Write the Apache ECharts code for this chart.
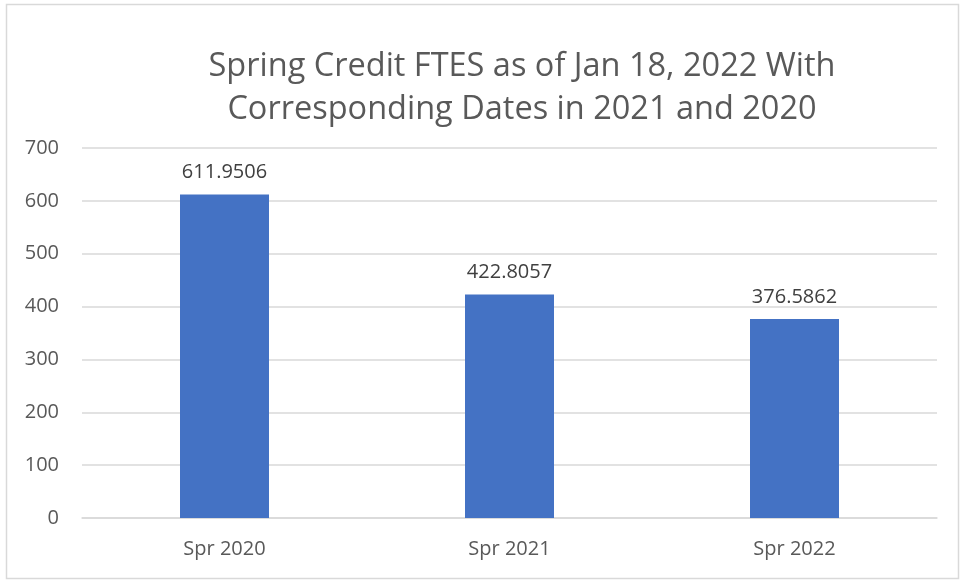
<!DOCTYPE html>
<html>
<head>
<meta charset="utf-8">
<script src="https://cdn.jsdelivr.net/npm/echarts@6/dist/echarts.min.js"></script>
<style>
html, body { margin: 0; padding: 0; background: #fff; }
#main { width: 964px; height: 582px; }
</style>
</head>
<body>
<div id="main"></div>
<script>
var categories = ['Spr 2020', 'Spr 2021', 'Spr 2022'];
var ftesValues = [611.9506, 422.8057, 376.5862];
var yTicks = [0, 100, 200, 300, 400, 500, 600, 700];

var fontName = '"Open Sans", "Noto Sans", sans-serif';

var chart = echarts.init(document.getElementById('main'));
var option = {
    animation: false,
    title: {
        text: 'Spring Credit FTES as of Jan 18, 2022 With\nCorresponding Dates in 2021 and 2020',
        left: 517,
        textAlign: 'center',
        top: 40,
        textStyle: {
            color: '#595959',
            fontFamily: fontName,
            fontWeight: 'normal',
            fontSize: 32.5,
            lineHeight: 43
        }
    },
    graphic: [{
        type: 'rect',
        shape: { x: 6.5, y: 4.5, width: 952, height: 574 },
        style: { fill: 'none', stroke: '#d9d9d9', lineWidth: 1.5 },
        silent: true
    }],
    grid: {
        left: 82,
        right: 27,
        top: 148,
        bottom: 64
    },
    xAxis: {
        type: 'category',
        data: categories,
        axisTick: { show: false },
        axisLine: { lineStyle: { color: '#d9d9d9', width: 1.5 } },
        axisLabel: {
            color: '#595959',
            fontFamily: fontName,
            fontSize: 20,
            margin: 21
        }
    },
    yAxis: {
        type: 'value',
        min: yTicks[0],
        max: yTicks[yTicks.length - 1],
        interval: 100,
        axisLine: { show: false },
        axisTick: { show: false },
        splitLine: { lineStyle: { color: '#d9d9d9', width: 1.5 } },
        axisLabel: {
            color: '#595959',
            fontFamily: fontName,
            fontSize: 20,
            margin: 23
        }
    },
    series: [{
        type: 'bar',
        data: ftesValues,
        barWidth: 89,
        itemStyle: { color: '#4472c4' },
        label: {
            show: true,
            position: 'top',
            distance: 12,
            color: '#404040',
            fontFamily: fontName,
            fontSize: 20,
            formatter: function (p) { return p.value.toFixed(4); }
        }
    }]
};
chart.setOption(option);
</script>
</body>
</html>
